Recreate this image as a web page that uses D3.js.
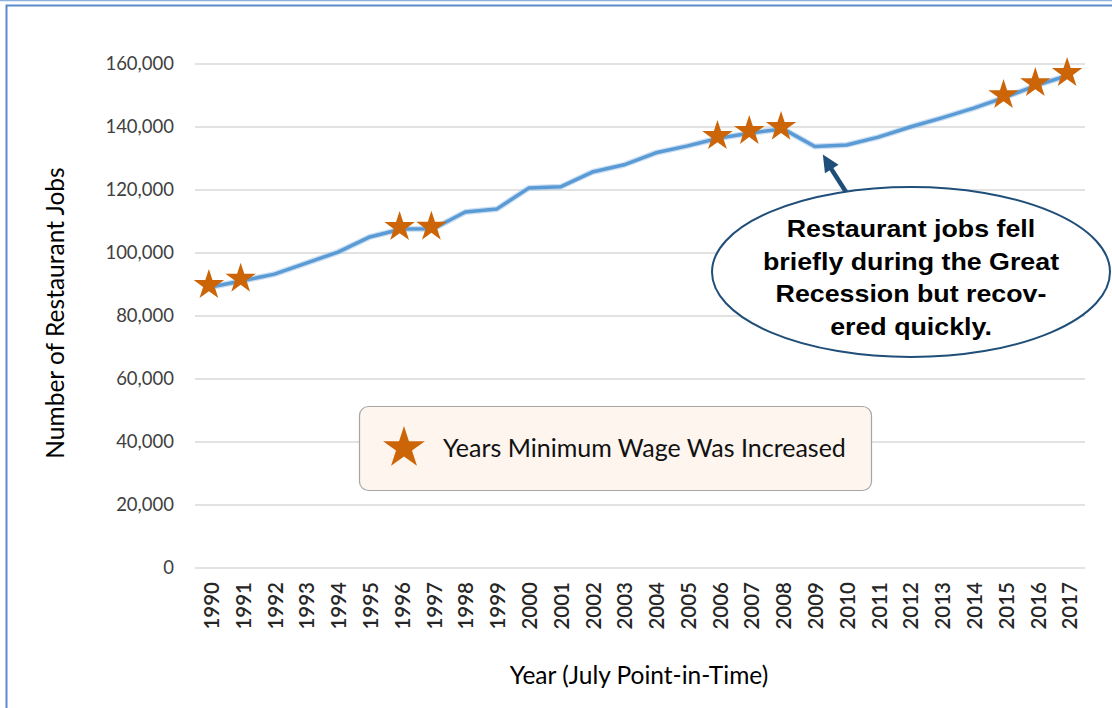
<!DOCTYPE html>
<html>
<head>
<meta charset="utf-8">
<script src="https://cdn.jsdelivr.net/npm/d3@7"></script>
<style>
  body { margin: 0; background: #fff; }
  svg { display: block; }
</style>
</head>
<body>
<svg id="chart"></svg>
<script>
// data
const years = d3.range(1990, 2018).map(String);
const jobs = [89200, 91200, 93300, 96800, 100300, 105100, 107600, 107700, 113000, 114000,
  120600, 121000, 125700, 128000, 131800, 134000, 136500, 138100, 139400, 133800,
  134300, 136800, 140000, 142900, 146000, 149500, 153300, 156500];
const wageYears = ["1990", "1991", "1996", "1997", "2006", "2007", "2008", "2015", "2016", "2017"];
const yTicks = [0, 20000, 40000, 60000, 80000, 100000, 120000, 140000, 160000];
const calloutLines = ["Restaurant jobs fell", "briefly during the Great", "Recession but recov-", "ered quickly."];

const width = 1112;
const height = 708;
const plot = { left: 195, right: 1085, top: 64, bottom: 568 };
const starColor = "#cc6508";
const navy = "#1f4e79";

const svg = d3.select("#chart")
  .attr("width", width)
  .attr("height", height)
  .style("font-family", "Lato, 'Open Sans', sans-serif");

// outer frame
svg.append("line")
  .attr("x1", 0).attr("x2", width).attr("y1", 0.5).attr("y2", 0.5)
  .attr("stroke", "#8fb0dc").attr("stroke-width", 1.5);
svg.append("rect")
  .attr("x", 6.5).attr("y", 5.5)
  .attr("width", width + 20).attr("height", height + 20)
  .attr("fill", "none").attr("stroke", "#5b8bcc").attr("stroke-width", 2);

// scales
const x = d3.scaleBand()
  .domain(years)
  .range([plot.left, plot.right]);

const y = d3.scaleLinear()
  .domain([0, 160000])
  .range([plot.bottom, plot.top]);

const cx = d => x(d) + x.bandwidth() / 2;

// gridlines
svg.append("g")
  .selectAll("line")
  .data(yTicks)
  .join("line")
  .attr("x1", plot.left)
  .attr("x2", plot.right)
  .attr("y1", d => y(d))
  .attr("y2", d => y(d))
  .attr("stroke", "#d9d9d9")
  .attr("stroke-width", 1.3);

// y axis labels
svg.append("g")
  .selectAll("text")
  .data(yTicks)
  .join("text")
  .attr("x", 174)
  .attr("y", d => y(d))
  .attr("dy", "0.35em")
  .attr("text-anchor", "end")
  .attr("fill", "#404040")
  .style("font-size", "18.5px")
  .text(d => d3.format(",")(d));

// x axis labels
svg.append("g")
  .selectAll("text")
  .data(years)
  .join("text")
  .attr("transform", d => `translate(${cx(d) + 1},582)rotate(-90)`)
  .attr("dy", "0.35em")
  .attr("text-anchor", "end")
  .attr("fill", "#262626")
  .style("font-size", "20.5px")
  .style("font-weight", "600")
  .text(d => d);

// axis titles
svg.append("text")
  .attr("transform", "translate(64,313)rotate(-90)")
  .attr("text-anchor", "middle")
  .attr("fill", "#000")
  .style("font-size", "24.5px")
  .text("Number of Restaurant Jobs");

svg.append("text")
  .attr("x", 639)
  .attr("y", 684)
  .attr("text-anchor", "middle")
  .attr("fill", "#000")
  .style("font-size", "24.5px")
  .text("Year (July Point-in-Time)");

// line
const line = d3.line()
  .x((d, i) => cx(years[i]))
  .y(d => y(d));

svg.append("path")
  .datum(jobs)
  .attr("d", line)
  .attr("fill", "none")
  .attr("stroke", "#9cc2e8")
  .attr("stroke-width", 6)
  .attr("stroke-opacity", 0.5)
  .attr("stroke-linejoin", "round");

svg.append("path")
  .datum(jobs)
  .attr("d", line)
  .attr("fill", "none")
  .attr("stroke", "#5b9bd5")
  .attr("stroke-width", 3.5)
  .attr("stroke-linejoin", "round");

// stars for minimum wage increases
const star = d3.symbol(d3.symbolStar, 16 * 16 / 0.8908130915292852);
svg.append("g")
  .selectAll("path")
  .data(wageYears)
  .join("path")
  .attr("transform", d => `translate(${cx(d) - 2},${y(jobs[years.indexOf(d)]) - 2})`)
  .attr("d", star)
  .attr("fill", starColor);

// legend
const legend = svg.append("g").attr("transform", "translate(359,406)");
legend.append("rect")
  .attr("x", 0.5).attr("y", 0.5)
  .attr("width", 512).attr("height", 84)
  .attr("rx", 9)
  .attr("fill", "#fdf5ee")
  .attr("stroke", "#a6a6a6")
  .attr("stroke-width", 1.2);
legend.append("path")
  .attr("transform", "translate(45,42)")
  .attr("d", d3.symbol(d3.symbolStar, 22 * 22 / 0.8908130915292852))
  .attr("fill", starColor);
legend.append("text")
  .attr("x", 84)
  .attr("y", 42)
  .attr("dy", "0.35em")
  .attr("fill", "#111")
  .style("font-size", "25px")
  .text("Years Minimum Wage Was Increased");

// callout arrow
const tip = [cx("2009") + 8, y(jobs[years.indexOf("2009")]) + 8];
svg.append("line")
  .attr("x1", 846).attr("y1", 192)
  .attr("x2", tip[0] + 5).attr("y2", tip[1] + 9)
  .attr("stroke", navy)
  .attr("stroke-width", 4.5);
svg.append("path")
  .attr("transform", `translate(${tip[0]},${tip[1]})rotate(${Math.atan2(192 - tip[1], 846 - tip[0]) * 180 / Math.PI})`)
  .attr("d", "M0,0 L17,-8 L17,8 Z")
  .attr("fill", navy);

// callout ellipse
svg.append("ellipse")
  .attr("cx", 911).attr("cy", 272)
  .attr("rx", 199).attr("ry", 85)
  .attr("fill", "#fff")
  .attr("stroke", navy)
  .attr("stroke-width", 2);

svg.append("g")
  .attr("transform", "translate(911,0)scale(1.14,1)")
  .selectAll("text")
  .data(calloutLines)
  .join("text")
  .attr("x", 0)
  .attr("y", (d, i) => 237 + i * 32.7)
  .attr("text-anchor", "middle")
  .attr("fill", "#000")
  .style("font-family", "'Liberation Sans', Arial, sans-serif")
  .style("font-weight", "bold")
  .style("font-size", "23.5px")
  .text(d => d);
</script>
</body>
</html>
